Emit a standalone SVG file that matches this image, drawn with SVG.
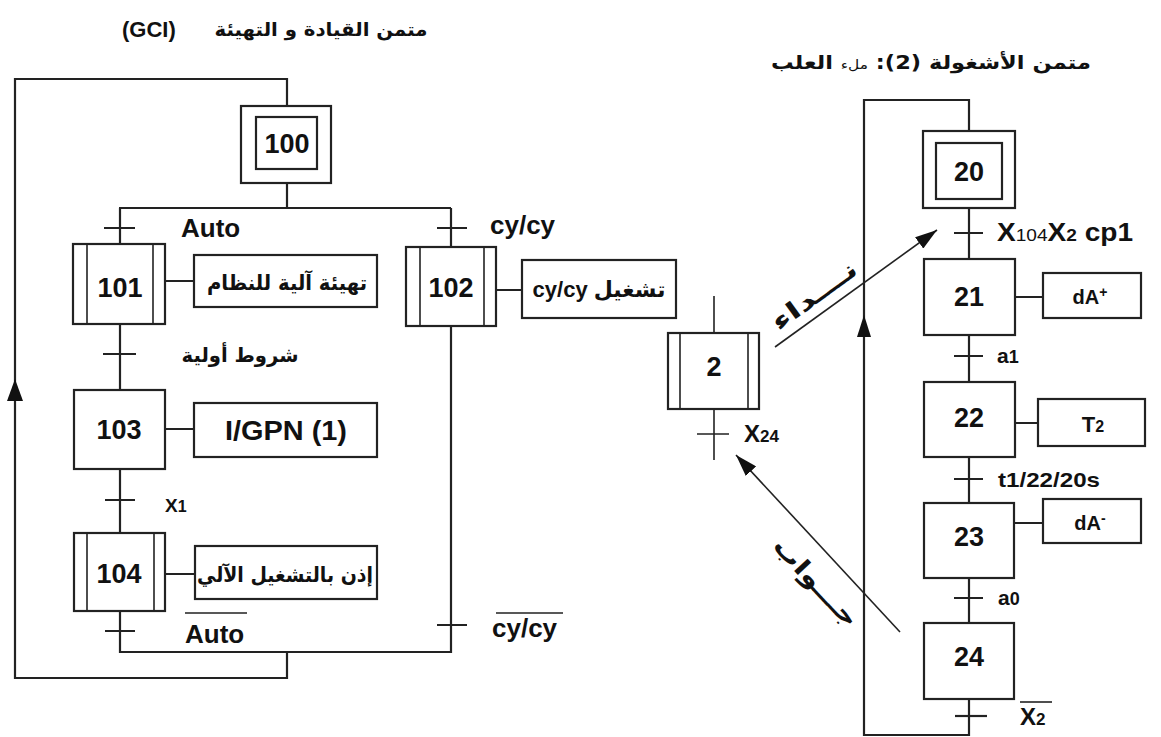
<svg xmlns="http://www.w3.org/2000/svg" width="1161" height="737" viewBox="0 0 1161 737">
<style>
  .ln{fill:none;stroke:#222;stroke-width:2.2}
  .th{fill:none;stroke:#222;stroke-width:1.6}
  .bx{fill:#fff;stroke:#222;stroke-width:2.2}
  .num{font-family:"Liberation Sans",Arial,sans-serif;font-weight:bold;font-size:27px;text-anchor:middle;fill:#111}
  .lbl{font-family:"Liberation Sans",Arial,sans-serif;font-weight:bold;font-size:26px;fill:#111}
  .sm{font-family:"Liberation Sans",Arial,sans-serif;font-weight:bold;font-size:21px;fill:#111}
  .ar{font-family:"DejaVu Sans","Noto Sans",sans-serif;font-weight:bold;font-size:20px;fill:#111}
</style>
<defs>
  <marker id="ah" markerUnits="userSpaceOnUse" markerWidth="22" markerHeight="14" refX="22" refY="7" orient="auto">
    <path d="M0,0 L22,7 L0,14 z" fill="#111"/>
  </marker>
</defs>

<!-- Titles -->
<text class="lbl" x="122" y="37" style="font-size:22px">(GCI)</text>
<text class="ar" x="321" y="36" text-anchor="middle" direction="rtl" textLength="213" lengthAdjust="spacingAndGlyphs" style="font-size:19px">متمن القيادة و التهيئة</text>
<text class="ar" x="931" y="69" text-anchor="middle" direction="rtl" textLength="320" lengthAdjust="spacingAndGlyphs" style="font-size:19px">متمن الأشغولة (2): <tspan style="font-weight:normal;font-size:13px">ملء</tspan>  العلب</text>

<!-- Connectors -->
<g id="connectors">
  <!-- GCI loop -->
  <path class="ln" d="M287,106 V79 H15 V678 H287 V652"/>
  <polygon points="15,379 7,401 23,401" fill="#111"/>
  <path class="ln" d="M287,183 V208 M119,208 H451 M120,208 V244 M451,208 V247"/>
  <path class="ln" d="M104,228 H135 M437,228 H467"/>
  <path class="ln" d="M120,324 V390 M103,354 H136"/>
  <path class="ln" d="M120,469 V533 M105,500 H135"/>
  <path class="ln" d="M120,611 V652 H451 V326 M105,631 H135 M437,625 H467"/>
  <path class="ln" d="M165,281 H194 M496,290 H522 M165,429 H194 M165,574 H195"/>
  <path class="th" d="M185,613 H247 M496,613 H563"/>
  <!-- GRAFCET 2 loop -->
  <path class="ln" d="M969,131 V100 H864 V735 H969 V699"/>
  <polygon points="864,315 857,337 871,337" fill="#111"/>
  <path class="ln" d="M969,208 V259 M954,233 H983"/>
  <path class="ln" d="M969,335 V382 M954,356 H983"/>
  <path class="ln" d="M969,457 V503 M954,479 H983"/>
  <path class="ln" d="M969,578 V623 M954,598 H983"/>
  <path class="ln" d="M955,716 H987"/>
  <path class="th" d="M1020,702 H1052"/>
  <path class="ln" d="M1015,297 H1043 M1015,423 H1038 M1014,523 H1043"/>
  <!-- step 2 -->
  <path class="th" d="M714,296 V333 M714,409 V460 M697,434 H729"/>
  <!-- call / answer -->
  <line class="th" x1="775" y1="347" x2="937" y2="230" marker-end="url(#ah)"/>
  <line class="th" x1="900" y1="632" x2="736" y2="455" marker-end="url(#ah)"/>
</g>

<!-- Transition labels -->
<text class="lbl" x="181" y="237">Auto</text>
<text class="lbl" x="490" y="234">cy/cy</text>
<text class="ar" x="240" y="362" text-anchor="middle" direction="rtl" textLength="117" lengthAdjust="spacingAndGlyphs">شروط أولية</text>
<text class="sm" x="165" y="512" style="font-size:19px">X<tspan style="font-size:16px">1</tspan></text>
<text class="lbl" x="185" y="643">Auto</text>
<text class="lbl" x="492" y="637">cy/cy</text>

<text class="lbl" x="997" y="241" textLength="136" lengthAdjust="spacingAndGlyphs" style="font-size:25px">X<tspan style="font-size:17px;font-weight:normal">104</tspan>X<tspan style="font-size:17px">2</tspan> cp1</text>
<text class="sm" x="997" y="363">a<tspan style="font-size:18px">1</tspan></text>
<text class="sm" x="998" y="487" textLength="102" lengthAdjust="spacingAndGlyphs">t1/22/20s</text>
<text class="sm" x="998" y="605">a<tspan style="font-size:18px">0</tspan></text>
<text class="lbl" x="1020" y="725" style="font-size:24px">X<tspan style="font-size:17px">2</tspan></text>
<text class="lbl" x="744" y="442" style="font-size:24px">X<tspan style="font-size:17px">24</tspan></text>

<text class="ar" x="819" y="302" text-anchor="middle" direction="rtl" textLength="100" lengthAdjust="spacingAndGlyphs" transform="rotate(-36 819 302)" style="font-size:24px">نـــداء</text>
<text class="ar" x="810" y="588" text-anchor="middle" direction="rtl" textLength="112" lengthAdjust="spacingAndGlyphs" transform="rotate(47 810 588)" style="font-size:24px">جـــواب</text>

<!-- GCI steps -->
<g id="step100">
  <rect class="bx" x="241" y="106" width="90" height="77"/>
  <rect class="bx" x="256" y="117" width="61" height="52"/>
  <text class="num" x="287" y="153">100</text>
</g>
<g id="step101">
  <rect class="bx" x="73" y="244" width="92" height="80"/>
  <path class="th" d="M87,244 V324 M153,244 V324"/>
  <text class="num" x="120" y="297">101</text>
</g>
<g id="action101">
  <rect class="bx" x="194" y="255" width="183" height="52"/>
  <text class="ar" x="287" y="290" text-anchor="middle" direction="rtl" textLength="160" lengthAdjust="spacingAndGlyphs" style="font-size:21px">تهيئة آلية للنظام</text>
</g>
<g id="step102">
  <rect class="bx" x="406" y="247" width="90" height="79"/>
  <path class="th" d="M420,247 V326 M484,247 V326"/>
  <text class="num" x="451" y="297">102</text>
</g>
<g id="action102">
  <rect class="bx" x="522" y="260" width="154" height="58"/>
  <text x="599" y="297" text-anchor="middle" direction="rtl" style="font-family:'Liberation Sans','DejaVu Sans',sans-serif;font-weight:bold;font-size:22px;fill:#111">تشغيل cy/cy</text>
</g>
<g id="step103">
  <rect class="bx" x="74" y="390" width="91" height="79"/>
  <text class="num" x="119" y="439">103</text>
</g>
<g id="action103">
  <rect class="bx" x="194" y="403" width="183" height="54"/>
  <text class="num" x="286" y="440" textLength="122" lengthAdjust="spacingAndGlyphs">I/GPN (1)</text>
</g>
<g id="step104">
  <rect class="bx" x="74" y="533" width="91" height="78"/>
  <path class="th" d="M87,533 V611 M154,533 V611"/>
  <text class="num" x="119" y="583">104</text>
</g>
<g id="action104">
  <rect class="bx" x="195" y="546" width="182" height="53"/>
  <text class="ar" x="285" y="582" text-anchor="middle" direction="rtl" textLength="176" lengthAdjust="spacingAndGlyphs" style="font-size:21px">إذن بالتشغيل الآلي</text>
</g>

<!-- GRAFCET 2 -->
<g id="step2">
  <rect class="bx" x="668" y="333" width="91" height="76"/>
  <path class="th" d="M680,333 V409 M748,333 V409"/>
  <text class="num" x="714" y="376">2</text>
</g>
<g id="step20">
  <rect class="bx" x="923" y="131" width="92" height="77"/>
  <rect class="bx" x="936" y="143" width="66" height="56"/>
  <text class="num" x="969" y="181">20</text>
</g>
<g id="step21">
  <rect class="bx" x="924" y="259" width="91" height="76"/>
  <text class="num" x="969" y="306">21</text>
</g>
<g id="action21">
  <rect class="bx" x="1043" y="273" width="98" height="45"/>
  <text class="sm" x="1090" y="304" text-anchor="middle" style="font-size:20px">dA<tspan dy="-7" style="font-size:14px">+</tspan></text>
</g>
<g id="step22">
  <rect class="bx" x="924" y="382" width="91" height="75"/>
  <text class="num" x="969" y="427">22</text>
</g>
<g id="action22">
  <rect class="bx" x="1038" y="399" width="107" height="47"/>
  <text class="lbl" x="1093" y="432" text-anchor="middle" style="font-size:22px">T<tspan style="font-size:16px">2</tspan></text>
</g>
<g id="step23">
  <rect class="bx" x="924" y="503" width="90" height="75"/>
  <text class="num" x="969" y="546">23</text>
</g>
<g id="action23">
  <rect class="bx" x="1043" y="499" width="98" height="44"/>
  <text class="sm" x="1090" y="530" text-anchor="middle" style="font-size:20px">dA<tspan dy="-7" style="font-size:14px">-</tspan></text>
</g>
<g id="step24">
  <rect class="bx" x="924" y="623" width="90" height="76"/>
  <text class="num" x="969" y="666">24</text>
</g>
</svg>
